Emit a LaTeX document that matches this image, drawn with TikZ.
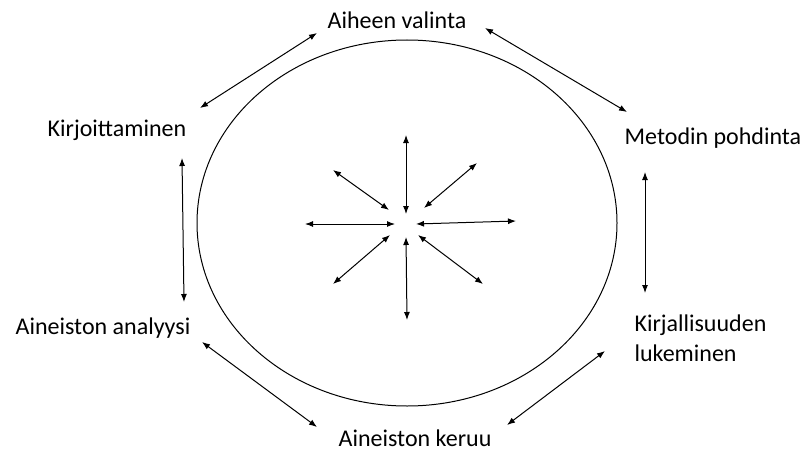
\documentclass[tikz,border=0pt]{standalone}
\usepackage{fontspec}
\setmainfont{Carlito}
\usetikzlibrary{arrows.meta}

\begin{document}
\begin{tikzpicture}[x=1pt,y=-1pt,
  font=\fontsize{24}{30}\selectfont,
  fleche/.style={{Latex[length=8pt,width=6pt]}-{Latex[length=8pt,width=6pt]}, line width=1pt}]
\useasboundingbox (0,0) rectangle (805,452);
%Etapes du cycle
\node (E1) at (397,20) {Aiheen valinta};
\node (E2) at (713,138) {Metodin pohdinta};
\node[align=left,anchor=west] (E3) at (631,338) {Kirjallisuuden\\lukeminen};
\node (E4) at (415,438) {Aineiston keruu};
\node (E5) at (103,328) {Aineiston analyysi};
\node (E6) at (117,130) {Kirjoittaminen};
%Ellipse
\draw[line width=1pt] (407,223) ellipse [x radius=210pt, y radius=183pt];
%Extremites des fleches exterieures
\coordinate (A1) at (317,33);  \coordinate (A2) at (200,108);
\coordinate (B1) at (485,28);  \coordinate (B2) at (627,112);
\coordinate (C1) at (645,172); \coordinate (C2) at (645,293);
\coordinate (D1) at (605,351); \coordinate (D2) at (507,425);
\coordinate (F1) at (202,342); \coordinate (F2) at (317,427);
\coordinate (G1) at (182,158); \coordinate (G2) at (184,302);
%Fleches exterieures
\draw[fleche] (A1) -- (A2);
\draw[fleche] (B1) -- (B2);
\draw[fleche] (C1) -- (C2);
\draw[fleche] (D1) -- (D2);
\draw[fleche] (F1) -- (F2);
\draw[fleche] (G1) -- (G2);
%Etoile centrale
\coordinate (N1) at (406,135); \coordinate (N2) at (406,214);
\coordinate (S1) at (406,237); \coordinate (S2) at (407,320);
\coordinate (O1) at (305,224); \coordinate (O2) at (395,224);
\coordinate (R1) at (416,224); \coordinate (R2) at (516,221);
\coordinate (NO1) at (333,170); \coordinate (NO2) at (389,210);
\coordinate (NE1) at (477,163); \coordinate (NE2) at (424,208);
\coordinate (SO1) at (390,235); \coordinate (SO2) at (333,284);
\coordinate (SE1) at (418,235); \coordinate (SE2) at (483,284);
\draw[fleche] (N1) -- (N2);
\draw[fleche] (S1) -- (S2);
\draw[fleche] (O1) -- (O2);
\draw[fleche] (R1) -- (R2);
\draw[fleche] (NO1) -- (NO2);
\draw[fleche] (NE1) -- (NE2);
\draw[fleche] (SO1) -- (SO2);
\draw[fleche] (SE1) -- (SE2);
\end{tikzpicture}
\end{document}
